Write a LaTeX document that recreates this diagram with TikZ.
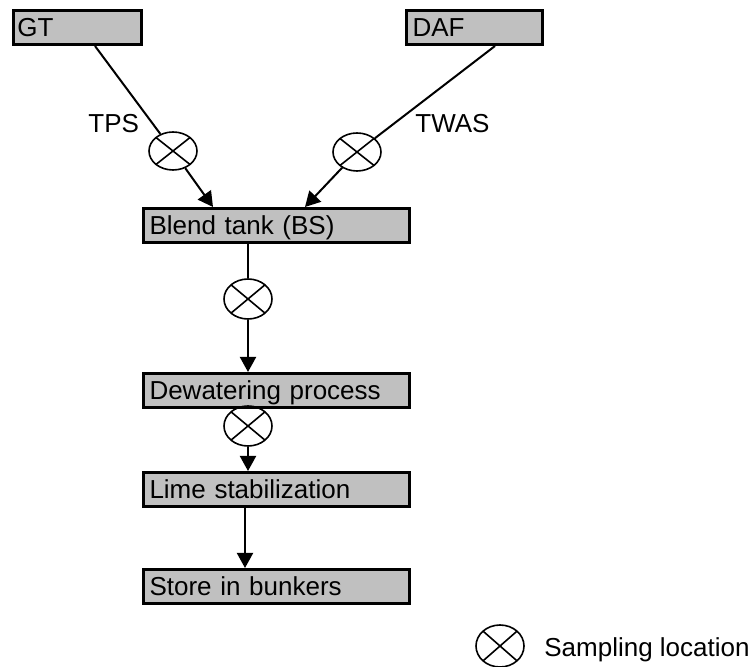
\documentclass[tikz,border=0pt]{standalone}
\usepackage{fontspec}
\setmainfont{Liberation Sans}
\usetikzlibrary{shapes.geometric,arrows.meta,calc}
\definecolor{boxgray}{RGB}{192,192,192}
\tikzset{
  procbox/.style={draw, line width=1.5pt, fill=boxgray, anchor=north west,
    minimum height=17pt, inner xsep=3pt, inner ysep=0pt,
    text height=9.3pt, text depth=0pt, align=left,
    font=\fontsize{13}{15}\selectfont},
  sampler/.style={ellipse, draw, line width=0.8pt, minimum width=24pt,
    minimum height=20pt, inner sep=0pt,
    path picture={\draw[line width=0.8pt]
      (path picture bounding box.north west) -- (path picture bounding box.south east)
      (path picture bounding box.north east) -- (path picture bounding box.south west);}},
  conn/.style={line width=1pt},
  arr/.style={line width=1pt, -{Triangle[width=8pt,length=7.5pt]}},
  lbl/.style={anchor=base west, inner sep=0pt, font=\fontsize{13}{15}\selectfont}
}
\begin{document}
\begin{tikzpicture}[x=0.5pt,y=-0.5pt]
\useasboundingbox (0,0) rectangle (755,667);
% boxes
\node[procbox, text width=60pt, inner xsep=2pt] (gt) at (12,9) {GT};
\node[procbox, text width=62pt] (daf) at (405,9) {DAF};
\node[procbox, text width=127pt] (blend) at (142,207) {Blend tank (BS)};
\node[procbox, text width=127pt] (dew) at (142,372) {Dewatering process};
\node[procbox, text width=127pt] (lime) at (142,471) {Lime stabilization};
\node[procbox, text width=127pt] (store) at (142,568) {Store in bunkers};
% sampling points
\node[sampler, minimum height=19pt] (s1) at (173,151) {};
\node[sampler, minimum height=19pt] (s2) at (357,152) {};
\node[sampler] (s3) at (248,299) {};
\node[sampler] (s4) at (248,426) {};
% labels
\node[lbl] (tps) at (88,133) {TPS};
\node[lbl] (twas) at (415,133) {TWAS};
% connectors
\draw[conn] ([xshift=41.5pt]gt.south west) -- (s1);
\draw[arr] (s1) -- ([xshift=35.5pt]blend.north west);
\draw[conn] ([xshift=45pt]daf.south west) -- (s2);
\draw[arr] (s2) -- ([xshift=81.5pt]blend.north west);
\draw[conn] ([xshift=53pt]blend.south west) -- (s3);
\draw[arr] (s3) -- (s3 |- dew.north);
\draw[arr] (s4) -- (s4 |- lime.north);
\draw[arr] ([xshift=51.5pt]lime.south west) -- ([xshift=51.5pt]store.north west);
% legend
\node[sampler, minimum height=21pt] (s5) at (500,646) {};
\node[lbl] (legend) at (544,656) {Sampling location};
\end{tikzpicture}
\end{document}
